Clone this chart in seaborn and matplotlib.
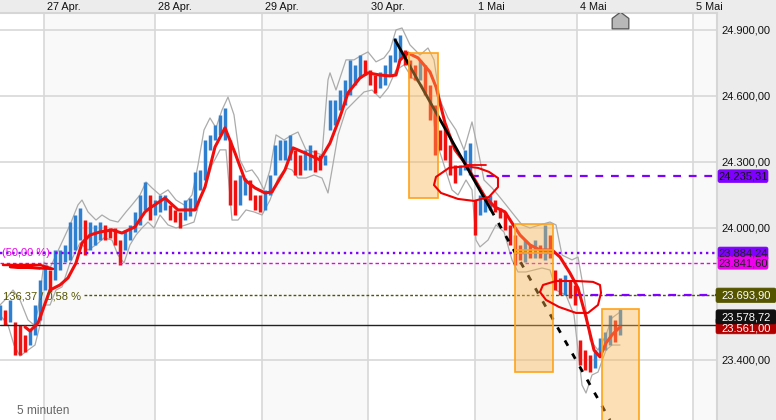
import numpy as np
import pandas as pd
import matplotlib
matplotlib.use("Agg")
import matplotlib.pyplot as plt
from matplotlib.patches import Rectangle, FancyBboxPatch
from matplotlib.path import Path
from matplotlib.transforms import ScaledTranslation
import seaborn as sns

# time position of each day start and its label
day_pos = [44, 155, 262, 368, 475, 577, 693]
day_labels = ["27 Apr.", "28 Apr.", "29 Apr.", "30 Apr.", "1 Mai", "4 Mai", "5 Mai"]
price_ticks = [24900, 24600, 24300, 24000, 23400]
price_labels = ["24.900,00", "24.600,00", "24.300,00", "24.000,00", "23.400,00"]

bar_high = [23650,23627,23673,23573,23559,23514,23536,23650,23764,23832,23809,23900,23900,23923,24027,24059,24091,24036,24027,24014,24027,24014,24000,24000,23945,23991,24014,24073,24150,24209,24150,24127,24150,24150,24105,24082,24073,24127,24136,24255,24264,24400,24423,24468,24514,24545,24400,24218,24241,24227,24218,24150,24150,24173,24241,24377,24400,24400,24423,24355,24332,24355,24377,24355,24332,24332,24582,24582,24627,24673,24764,24741,24786,24764,24718,24695,24709,24741,24786,24864,24877,24809,24764,24741,24764,24741,24650,24559,24445,24468,24377,24286,24286,24355,24386,24127,24150,24136,24150,24127,24091,24073,24014,23968,23923,23945,23923,23945,23923,24014,23968,23809,23773,23786,23764,23741,23491,23445,23423,23445,23500,23527,23605,23582,23632]
bar_low = [23582,23559,23573,23423,23423,23436,23468,23514,23582,23718,23709,23764,23809,23845,23855,23900,23945,23877,23900,23923,23945,23945,23955,23923,23832,23900,23945,23982,24014,24082,24036,24059,24073,24082,24036,24027,24000,24036,24055,24082,24173,24218,24355,24400,24423,24400,24105,24059,24105,24150,24127,24082,24073,24082,24150,24241,24309,24309,24309,24241,24241,24264,24264,24255,24264,24286,24445,24468,24536,24559,24605,24650,24682,24695,24650,24614,24636,24650,24695,24755,24764,24741,24682,24673,24673,24605,24491,24332,24355,24309,24241,24205,24241,24264,24241,23968,24059,24073,24082,24073,24045,23991,23923,23832,23855,23845,23864,23864,23864,23855,23864,23718,23695,23695,23682,23650,23377,23355,23345,23364,23423,23445,23468,23482,23514]

ma_t = [25,30,38,50,60,68,76,82,90,100,112,122,135,145,150,165,178,195,205,215,225,235,245,255,265,272,285,293,305,320,330,340,348,360,368,380,390,396,400,408,418,430,436,445,455,465,475,485,495,505,512,520,530,540,552,560,570,578,586,594,600,606,612,620]
ma_val = [23550,23532,23568,23718,23741,23773,23841,23932,23968,23982,23991,23977,24005,24073,24091,24136,24082,24082,24186,24368,24455,24341,24218,24182,24159,24164,24264,24364,24341,24309,24386,24505,24614,24682,24705,24695,24691,24695,24764,24795,24773,24709,24641,24477,24355,24295,24218,24141,24095,24073,24023,23968,23923,23900,23900,23868,23795,23727,23595,23445,23414,23477,23514,23550]

up_t = [0,5,13,20,28,34,38,44,50,56,64,70,78,82,88,96,102,110,118,126,132,140,146,152,160,168,176,184,192,198,204,210,216,222,228,234,240,246,252,258,264,270,276,284,292,298,306,314,322,328,330,336,346,354,362,368,376,384,390,396,402,410,420,428,434,440,448,456,464,472,478,484,492,498,506,514,522,530,540,550,556,562,572,578,582,590,598,606,612,620]
up_val = [23650,23673,23718,23673,23582,23559,23627,23845,23818,23877,23955,24014,24105,24127,24073,24036,24059,24036,24027,24073,24105,24150,24209,24182,24150,24173,24127,24105,24150,24286,24445,24500,24455,24536,24595,24514,24309,24255,24264,24227,24173,24264,24423,24400,24423,24436,24355,24345,24332,24673,24705,24627,24764,24764,24786,24800,24755,24773,24809,24900,24909,24832,24786,24818,24764,24582,24500,24445,24355,24482,24355,24218,24182,24150,24105,24059,24014,24000,24014,24027,24014,23877,23855,23868,23764,23491,23445,23514,23591,23618]

lo_t = [0,8,14,20,28,35,40,44,50,56,62,70,80,88,96,104,112,118,124,130,136,142,148,154,160,168,176,186,194,200,206,212,220,226,232,238,246,254,262,270,278,286,292,298,306,314,322,328,332,338,346,356,364,372,380,388,396,404,412,422,432,436,444,452,458,466,472,476,480,488,496,504,512,518,526,534,542,550,556,566,574,578,582,586,592,598,606,612,620]
lo_val = [23605,23559,23468,23418,23445,23468,23559,23650,23650,23718,23732,23841,23932,23900,23923,23955,23945,23877,23841,23923,23968,24000,24027,24000,24059,24014,24000,24014,24027,24127,24195,24286,24355,24355,24036,24036,24082,24073,24059,24127,24227,24273,24264,24227,24227,24241,24227,24159,24264,24423,24536,24582,24618,24627,24591,24636,24718,24741,24682,24650,24559,24400,24286,24173,24150,24218,24173,23945,23914,23945,24014,23982,23855,23800,23800,23809,23818,23809,23718,23695,23605,23445,23286,23250,23332,23345,23445,23468,23468]

circle1_t = [469,449,436,434,441,458,474,489,498,498,489,478,471]
circle1_p = [24282,24273,24232,24195,24159,24132,24123,24141,24186,24227,24255,24273,24277]
circle2_t = [540,543,556,576,593,600,601,598,588,576,559,546,540]
circle2_p = [23709,23741,23759,23759,23755,23741,23705,23650,23614,23614,23641,23673,23709]
scribble_t = [3,40,53,10,40]
scribble_p = [23832,23832,23814,23823,23818]

sns.set_theme(style="white")
plt.rcParams["font.family"] = ["Liberation Sans", "DejaVu Sans"]

fig = plt.figure(figsize=(7.76, 4.20), dpi=100, facecolor="#ececec")
ax = fig.add_axes([0, 0, 717 / 776, 407 / 420], facecolor="white")
ax.set_xlim(0, 717)
ax.set_ylim(23127.3, 24977)

# alternating day stripes
edges = day_pos + [717]
for i in range(0, len(edges) - 1, 2):
    ax.axvspan(edges[i], edges[i + 1], color="#f9f9f9", lw=0, zorder=0)

for v in day_pos:
    ax.axvline(v, color="#d8d8d8", lw=1.2, zorder=1)
for v in price_ticks:
    ax.axhline(v, color="#d8d8d8", lw=1.2, zorder=1)

# level lines
ax.axhline(23884.24, color="#7f00ff", lw=1.7, ls=(0, (1, 1.6)), zorder=5)
ax.axhline(23841.60, color="#ee00ee", lw=1.0, ls=(0, (2.5, 2)), zorder=5)
ax.plot([84, 717], [23693.9, 23693.9], color="#555500", lw=1.0, ls=(0, (2, 1.5)), zorder=5)
ax.axhline(23561, color="#222222", lw=1.0, zorder=5)
ax.plot([471, 717], [24235.31, 24235.31], color="#7f00ff", lw=1.6, ls=(0, (3.5, 3.5)), zorder=5)
ax.plot([575, 717], [23693.9, 23693.9], color="#7f00ff", lw=1.6, ls=(0, (3.5, 3.5)), zorder=5)

# grey envelope lines
grey = "#ababab"
sns.lineplot(data=pd.DataFrame({"t": up_t, "p": up_val}), x="t", y="p", estimator=None, sort=False,
             color=grey, lw=0.9, ax=ax, zorder=3)
sns.lineplot(data=pd.DataFrame({"t": lo_t, "p": lo_val}), x="t", y="p", estimator=None, sort=False,
             color=grey, lw=0.9, ax=ax, zorder=3)

# price bars: blue when rising, red when falling
t_bars = np.arange(len(bar_high)) * 5
mid = (np.array(bar_high) + np.array(bar_low)) / 2
rising = np.r_[True, np.diff(mid) >= 0]
ax.vlines(t_bars[rising], np.array(bar_low)[rising], np.array(bar_high)[rising], color="#2f7fd0", lw=2.5, zorder=4)
ax.vlines(t_bars[~rising], np.array(bar_low)[~rising], np.array(bar_high)[~rising], color="#f01010", lw=2.5, zorder=4)

# moving average
sns.lineplot(data=pd.DataFrame({"t": ma_t, "p": ma_val}), x="t", y="p", estimator=None, sort=False,
             color="#f20d0d", lw=2.2, ax=ax, zorder=6)

# drawn trend lines
ax.plot([395, 491], [24855, 24082], color="black", lw=2.0, zorder=7)
ax.plot([491, 610], [24082, 23127], color="black", lw=2.0, ls=(0, (2.2, 3.2)), zorder=7)

# orange boxes
for x0, x1, p0, p1 in [(409, 438, 24136, 24795), (515, 553, 23345, 24018), (602, 639, 23100, 23632)]:
    ax.add_patch(Rectangle((x0, p0), x1 - x0, p1 - p0, facecolor="#fbb54f", alpha=0.42, lw=0, zorder=8))
    ax.add_patch(Rectangle((x0, p0), x1 - x0, p1 - p0, fill=False, edgecolor="#ffa31a", lw=1.2, zorder=8))
ax.add_patch(Rectangle((515, 23884), 38, 18, fill=False, edgecolor="#ffa31a", lw=1.2, zorder=8))

# red hand drawings
ax.plot(circle1_t, circle1_p, color="#f00000", lw=1.5, zorder=9, solid_joinstyle="round")
ax.plot([467, 486], [24286, 24286], color="#f00000", lw=1.3, zorder=9)
ax.plot(circle2_t, circle2_p, color="#f00000", lw=1.5, zorder=9, solid_joinstyle="round")
ax.plot(scribble_t, scribble_p, color="#f00000", lw=1.8, zorder=9)

# marker
house = Path([(-1, -1), (1, -1), (1, 0.25), (0, 1), (-1, 0.25), (-1, -1)], closed=True)
ax.plot([620], [24945], marker=house, ms=12, mfc="#b8b8b8", mec="#555555", mew=0.9, zorder=9)

# texts in plot
ax.text(2, 23884, "(50,00 %)", color="#ee00ee", fontsize=8, va="center", zorder=8)
ax.text(3, 23688, "136,37 / 0,58 %", color="#555500", fontsize=8, va="center", zorder=8)
ax.text(17, 23170, "5 minuten", color="#666666", fontsize=8.6, va="center", zorder=8)

# price tags on the right panel: left, right, box centre, half height, text, text centre, colours
tags = [(718, 768, 24235.31, 29, "24.235,31", 24233, "#7f00ff", "#111111"),
        (718, 768, 23884.24, 29, "23.884,24", 23884, "#7f00ff", "#222222"),
        (718, 768, 23841.60, 29, "23.841,60", 23840, "#ee00ee", "#222222"),
        (716, 776, 23693.90, 33, "23.693,90", 23692, "#555500", "#ffffff"),
        (716, 776, 23555.00, 36, "23.561,00", 23543, "#b00000", "#ffffff"),
        (716, 776, 23596.00, 32, "23.578,72", 23594, "#111111", "#ffffff")]
for x0, x1, p, h, s, tp, fc, tc in tags:
    ax.add_patch(FancyBboxPatch((x0, p - h), x1 - x0, 2 * h, boxstyle="round,pad=0,rounding_size=2",
                                mutation_aspect=4.5, facecolor=fc, edgecolor=fc, lw=0.5, clip_on=False, zorder=10))
    ax.text((x0 + x1) / 2, tp, s, color=tc, fontsize=8, ha="center", va="center", clip_on=False, zorder=11)

# axes
ax.set_xlabel("")
ax.set_ylabel("")
ax.set_xticks(day_pos)
ax.set_xticklabels(day_labels, ha="left", fontsize=7.8, color="#111111")
ax.xaxis.tick_top()
ax.tick_params(axis="x", length=0, pad=1)
off = ScaledTranslation(3 / 100, 0, fig.dpi_scale_trans)
for lab in ax.get_xticklabels():
    lab.set_transform(lab.get_transform() + off)
ax.set_yticks(price_ticks)
ax.set_yticklabels(price_labels, fontsize=8, color="#111111")
ax.yaxis.tick_right()
ax.tick_params(axis="y", length=0, pad=3)
for name, sp in ax.spines.items():
    sp.set_visible(name in ("top", "right"))
    sp.set_color("#d6d6d6")
    sp.set_linewidth(1.5)

fig.savefig("out.png", dpi=100, facecolor=fig.get_facecolor())
